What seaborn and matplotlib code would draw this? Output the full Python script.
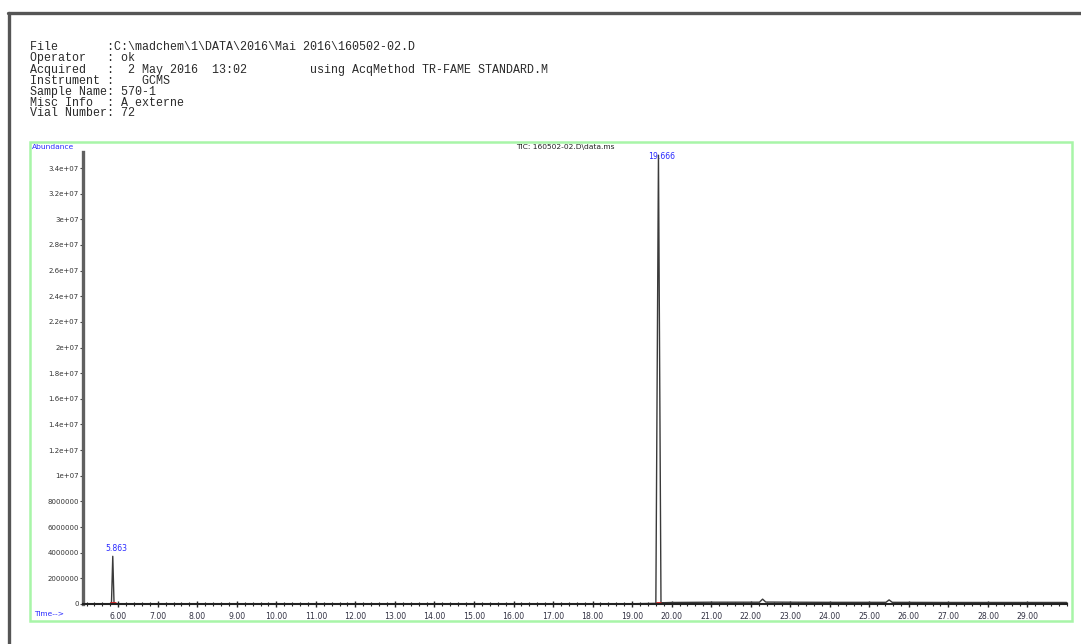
import numpy as np
import pandas as pd
import matplotlib
matplotlib.use("Agg")
import matplotlib.pyplot as plt
from matplotlib.patches import Rectangle
from matplotlib.lines import Line2D
from matplotlib.ticker import MultipleLocator, FuncFormatter
import seaborn as sns

# ---- header block (instrument report) ----
header_lines = [
    "File       :C:\\madchem\\1\\DATA\\2016\\Mai 2016\\160502-02.D",
    "Operator   : ok",
    "Acquired   :  2 May 2016  13:02         using AcqMethod TR-FAME STANDARD.M",
    "Instrument :    GCMS",
    "Sample Name: 570-1",
    "Misc Info  : A externe",
    "Vial Number: 72",
]
chrom_title = "TIC: 160502-02.D\\data.ms"

# ---- total ion chromatogram trace (retention time in min, abundance) ----
trace_time = [5.11, 5.80, 5.83, 5.863, 5.895, 5.93, 12.00, 19.00, 19.60,
              19.666, 19.73, 19.77, 20.00, 21.00, 22.22, 22.30, 22.38,
              23.00, 24.00, 25.42, 25.50, 25.58, 27.00, 29.99]
trace_abund = [0.02e6, 0.02e6, 0.05e6, 3.72e6, 0.06e6, 0.02e6, 0.02e6, 0.02e6,
               0.05e6, 35.0e6, 0.10e6, 0.10e6, 0.12e6, 0.14e6, 0.14e6, 0.38e6,
               0.15e6, 0.14e6, 0.13e6, 0.13e6, 0.32e6, 0.13e6, 0.12e6, 0.12e6]

# labelled peaks
peak_rt = [5.863, 19.666]
peak_height = [3.72e6, 35.0e6]
peak_label = ["5.863", "19.666"]

x_ticks = list(range(6, 30))
y_ticks = [0, 2e6, 4e6, 6e6, 8e6, 1e7, 1.2e7, 1.4e7, 1.6e7, 1.8e7, 2e7,
           2.2e7, 2.4e7, 2.6e7, 2.8e7, 3e7, 3.2e7, 3.4e7]

df = pd.DataFrame({"time": trace_time, "abundance": trace_abund})

sns.set_theme(style="white")
plt.rcParams["font.family"] = ["DejaVu Sans"]

W, H = 1081, 644
fig = plt.figure(figsize=(W / 100, H / 100), dpi=100)
fig.patch.set_facecolor("white")


def fx(px):
    return px / W


def fy(py):
    return 1 - py / H


# outer report frame: top rule and left rule
fig.add_artist(Line2D([fx(8), fx(W)], [fy(13), fy(13)], color="#555555", lw=2.4))
fig.add_artist(Line2D([fx(9), fx(9)], [fy(13), fy(H)], color="#555555", lw=2.4))

# light-green plot box
fig.add_artist(Rectangle((fx(30), fy(621)), fx(1072 - 30), (621 - 142) / H,
                         fill=False, edgecolor="#a8f5a8", lw=1.8))

# header text in monospace
for i, line in enumerate(header_lines):
    fig.text(fx(30), fy(47.5 + i * 11.0), line, family="Liberation Mono",
             fontsize=8.4, color="#2a2a2a", va="center", ha="left")

fig.text(fx(32), fy(147), "Abundance", color="#2a2aff", fontsize=5.4,
         va="center", ha="left")
fig.text(fx(34), fy(614), "Time-->", color="#2a2aff", fontsize=5.4,
         va="center", ha="left")
fig.text(fx(565), fy(147), chrom_title, color="#222222", fontsize=5.4,
         va="center", ha="center")

ax = fig.add_axes([fx(83), fy(604), fx(1067 - 83), (604 - 152) / H])
ax.set_facecolor("white")

sns.lineplot(data=df, x="time", y="abundance", ax=ax, color="#3a3a3a",
             lw=1.0, estimator=None, sort=True)

# integration baseline markers under labelled peaks
for rt in peak_rt:
    ax.plot([rt - 0.07, rt + 0.07], [0.05e6, 0.05e6], color="#e02020", lw=2.0,
            solid_capstyle="butt")

# peak retention time labels
for rt, h, lab in zip(peak_rt, peak_height, peak_label):
    ax.text(rt + 0.08, h + 0.25e6, lab, color="#2a2aff", fontsize=5.6,
            ha="center", va="bottom" if h < 3e7 else "top", clip_on=False)

ax.set_xlim(5.11, 30.0)
ax.set_ylim(0, 35.25e6)
ax.set_xlabel("")
ax.set_ylabel("")

ax.set_xticks(x_ticks)
ax.xaxis.set_minor_locator(MultipleLocator(0.2))
ax.xaxis.set_major_formatter(FuncFormatter(lambda v, p: f"{v:.2f}"))
ax.set_yticks(y_ticks)


def yfmt(v, p):
    if v == 0:
        return "0"
    if v < 1e7:
        return f"{int(v)}"
    s = f"{v:.1e}".replace(".0e", "e")
    return s


ax.yaxis.set_major_formatter(FuncFormatter(yfmt))

for side in ["top", "right"]:
    ax.spines[side].set_visible(False)
ax.spines["left"].set_color("#606060")
ax.spines["left"].set_linewidth(2.4)
ax.spines["bottom"].set_color("#222222")
ax.spines["bottom"].set_linewidth(1.5)

ax.tick_params(axis="x", which="major", direction="inout", length=5, width=1.0,
               color="#222222", labelsize=5.6, labelcolor="#333344", pad=3,
               bottom=True)
ax.tick_params(axis="x", which="minor", direction="inout", length=3, width=0.8,
               color="#222222", bottom=True)
ax.tick_params(axis="y", which="major", direction="out", length=2, width=0.8,
               color="#444444", labelsize=5.0, labelcolor="#333333", pad=1,
               left=True)

fig.savefig("out.png", dpi=100, facecolor="white")
